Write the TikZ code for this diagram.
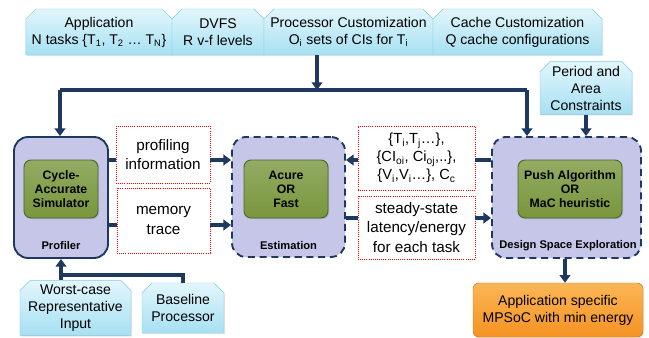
\documentclass[tikz,border=0pt]{standalone}
\usepackage{fontspec}
\setmainfont{Liberation Sans}
\usetikzlibrary{arrows.meta,shapes.misc,shadows}

\definecolor{navy}{RGB}{31,56,96}
\definecolor{lavender}{RGB}{197,198,232}
\definecolor{leaf}{RGB}{120,150,60}
\definecolor{leafdark}{RGB}{80,100,40}
\definecolor{skytop}{RGB}{226,246,252}
\definecolor{skybot}{RGB}{166,224,242}
\definecolor{skyline}{RGB}{130,200,222}
\definecolor{ortop}{RGB}{251,182,86}
\definecolor{orbot}{RGB}{245,146,34}

\tikzset{
  inbox/.style={chamfered rectangle, chamfered rectangle corners={north west,north east},
    chamfered rectangle xsep=5pt, draw=skyline, top color=skytop, bottom color=skybot,
    align=center, inner sep=0pt, font=\fontsize{12}{14.5}\selectfont,
    drop shadow={opacity=.2,shadow xshift=1pt,shadow yshift=-1pt}},
  stage/.style={rounded corners=12pt, fill=lavender, draw=navy, line width=1.6pt, inner sep=0pt},
  dstage/.style={stage, dashed, dash pattern=on 6pt off 4pt},
  core/.style={rounded corners=6pt, top color=leaf!80!white, bottom color=leaf, draw=leafdark,
    line width=.8pt, inner sep=0pt, align=center, font=\fontsize{10.5}{12}\selectfont\bfseries,
    drop shadow={opacity=.3,shadow xshift=1pt,shadow yshift=-1pt}},
  stagelabel/.style={font=\fontsize{9.5}{12}\selectfont\bfseries},
  data/.style={draw=red, densely dotted, line width=.8pt, fill=white, align=center, inner sep=0pt,
    font=\fontsize{13}{16.5}\selectfont},
  outbox/.style={rounded corners=5pt, draw=orbot!80!black, top color=ortop, bottom color=orbot,
    align=center, inner sep=0pt, font=\fontsize{12}{14.5}\selectfont,
    drop shadow={opacity=.2,shadow xshift=1pt,shadow yshift=-1pt}},
  wire/.style={draw=navy, line width=2.6pt},
  flow/.style={wire, -{Triangle[width=9pt,length=6.5pt]}}
}

\begin{document}
\begin{tikzpicture}[x=0.03cm,y=-0.03cm]
\useasboundingbox (0,0) rectangle (649,337);

% inputs
\node[inbox, minimum width=4.38cm, minimum height=1.38cm] (app) at (99,32)
  {Application\\N tasks \{T\textsubscript{1}, T\textsubscript{2} … T\textsubscript{N}\}};
\node[inbox, minimum width=2.76cm, minimum height=1.38cm] (dvfs) at (218,32) {DVFS\\R v-f levels};
\node[inbox, minimum width=5.07cm, minimum height=1.38cm] (proc) at (348.5,32)
  {Processor Customization\\O\textsubscript{i} sets of CIs for T\textsubscript{i}};
\node[inbox, minimum width=5.07cm, minimum height=1.38cm] (cache) at (517.5,32)
  {Cache Customization\\Q cache configurations};
\node[inbox, minimum width=2.76cm, minimum height=1.5cm] (period) at (586,88)
  {Period and\\Area\\Constraints};

% stages
\node[stage, minimum width=2.82cm, minimum height=3.63cm] (prof) at (61,197.5) {};
\node[core, minimum width=2.22cm, minimum height=1.74cm] (sim) at (61,189) {Cycle-\\Accurate\\Simulator};
\node[stagelabel] (proflabel) at (61,246) {Profiler};

\node[dstage, minimum width=3.39cm, minimum height=3.6cm] (est) at (288.5,197) {};
\node[core, minimum width=2.52cm, minimum height=1.74cm] (fast) at (286,189) {Acure\\OR\\Fast};
\node[stagelabel] (estlabel) at (288.5,246) {Estimation};

\node[dstage, minimum width=4.47cm, minimum height=3.63cm] (dse) at (566.5,197.5) {};
\node[core, minimum width=3.12cm, minimum height=1.74cm] (push) at (570,189) {Push Algorithm\\OR\\MaC heuristic};
\node[stagelabel] (dselabel) at (568,246) {Design Space Exploration};

% exchanged data
\node[data, minimum width=2.82cm, minimum height=1.71cm] (info) at (163,154.5) {profiling\\information};
\node[data, minimum width=2.79cm, minimum height=1.95cm] (trace) at (163.5,220.5) {memory\\trace};
\node[data, minimum width=3.51cm, minimum height=1.92cm, font=\fontsize{12.5}{15.5}\selectfont] (params) at (416.5,158)
  {\{T\textsubscript{i},T\textsubscript{j}…\},\\\{CI\textsubscript{oi}, Ci\textsubscript{oj},..\},\\\{V\textsubscript{i},V\textsubscript{i}…\}, C\textsubscript{c}};
\node[data, minimum width=3.51cm, minimum height=1.89cm] (steady) at (416.5,227.5)
  {steady-state\\latency/energy\\for each task};

% bottom
\node[inbox, minimum width=3.33cm, minimum height=1.5cm] (worst) at (75.5,308)
  {Worst-case\\Representative\\Input};
\node[inbox, minimum width=2.46cm, minimum height=1.5cm] (base) at (183,308) {Baseline\\Processor};
\node[outbox, minimum width=5.1cm, minimum height=1.62cm] (mpsoc) at (558,310)
  {Application specific\\MPSoC with min energy};

% connectors
\coordinate (busL) at (60,90);
\coordinate (busM) at (317,90);
\coordinate (busR) at (527,90);
\coordinate (join) at (61,275);
\draw[flow] (proc.south -| busM) -- (busM);
\draw[wire] (busL) -- (busR);
\draw[flow] (busL) -- (busL |- prof.north);
\draw[flow] (busR) -- (busR |- dse.north);
\draw[flow] (period.south) -- (period.south |- dse.north);

\draw[wire] (prof.east |- 0,160) -- (info.west |- 0,160);
\draw[flow] (info.east |- 0,160) -- (est.west |- 0,160);
\draw[wire] (prof.east |- 0,225) -- (trace.west |- 0,225);
\draw[flow] (trace.east |- 0,225) -- (est.west |- 0,225);

\draw[wire] (dse.west |- 0,160) -- (params.east |- 0,160);
\draw[flow] (params.west |- 0,160) -- (est.east |- 0,160);
\draw[wire] (est.east |- 0,218) -- (steady.west |- 0,218);
\draw[flow] (steady.east |- 0,218) -- (dse.west |- 0,218);

\draw[wire] (base.north) |- (join);
\draw[flow] (worst.north -| prof.south) -- (prof.south);
\draw[flow] (dse.south -| 565,0) -- (mpsoc.north -| 565,0);
\end{tikzpicture}
\end{document}
